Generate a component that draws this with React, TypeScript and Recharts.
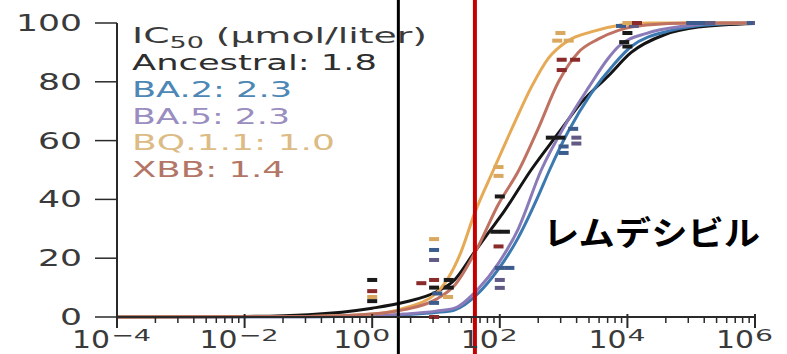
import {
  ComposedChart,
  Line,
  Scatter,
  XAxis,
  YAxis,
  ReferenceLine,
  Customized,
} from 'recharts'

// log10 dose vs. % inhibition, fitted curves read point by point
const ancestralCurve = [
  [-4, 0], [-2, 0.2], [-1, 0.8], [0, 3], [0.5, 5], [1.0, 8.5], [1.29, 12.6], [1.6, 22],
  [1.82, 28.6], [2.07, 36], [2.49, 50], [2.92, 62.6], [3.28, 73], [3.7, 82], [4.06, 90],
  [4.58, 96], [5.11, 98.6], [6, 99.8],
]
const ba2Curve = [
  [-4, 0], [-1, 0.1], [0, 0.3], [0.5, 0.8], [1.0, 1.5], [1.29, 2.4], [1.66, 8], [1.97, 16],
  [2.29, 27], [2.6, 41], [2.78, 50], [3.07, 63], [3.43, 76], [3.79, 86], [4.06, 92],
  [4.69, 97.5], [5.36, 99.5], [6, 100],
]
const ba5Curve = [
  [-4, 0], [-1, 0.1], [0, 0.4], [0.5, 1], [1.0, 2], [1.29, 3], [1.66, 9.5], [1.97, 18],
  [2.29, 30], [2.65, 50], [3.07, 67], [3.39, 78], [3.7, 88], [3.86, 92], [4.3, 96.5],
  [4.9, 99], [5.5, 100], [6, 100],
]
const bq11Curve = [
  [-4, 0], [-1, 0.2], [0, 1], [0.5, 3], [1.0, 8], [1.39, 22], [1.6, 35], [1.9, 50],
  [2.23, 66], [2.49, 78], [2.76, 88], [3.07, 94], [3.43, 97], [3.9, 99.3], [4.33, 100], [6, 100],
]
const xbbCurve = [
  [-4, 0], [-1, 0.2], [0, 1], [0.5, 2.5], [1.0, 6], [1.3, 11], [1.66, 24], [1.97, 38],
  [2.3, 50], [2.6, 64], [2.92, 80], [3.23, 90], [3.54, 94.5], [3.86, 97.5], [4.3, 99.3],
  [5, 100], [6, 100],
]

// replicate measurements
const ancestralMarks = [
  [0, 12.6], [0, 5.4], [1.2, 12.6], [1.2, 10], [0.97, 10], [2.0, 41], [1.93, 29], [2.08, 29],
  [2.8, 61], [2.95, 61], [4.0, 96.6], [3.95, 93.5], [4.0, 92], [5.1, 100],
]
const ba2Marks = [
  [0.97, 22.8], [0.97, 4.8], [1.02, 8], [2.0, 16.7], [2.15, 16.7], [3.0, 58], [3.0, 55.8],
  [3.15, 64], [3.9, 99], [5.0, 100], [5.15, 100], [5.95, 100],
]
const ba5Marks = [
  [0.97, 19.4], [2.0, 12.6], [2.0, 9.9], [3.2, 61], [3.2, 59], [4.1, 99], [5.3, 100], [6.05, 100],
]
const bq11Marks = [
  [0, 6.8], [0.97, 26.5], [1.19, 6.8], [1.98, 51], [1.98, 48], [2.95, 96.6], [2.9, 94],
  [3.08, 94], [4.0, 100],
]
const xbbMarks = [
  [0, 8.8], [0.77, 11.5], [0.97, 12.6], [0.97, 0], [1.98, 24], [2.97, 87.5], [3.18, 87.5],
  [2.97, 84], [4.15, 100],
]

const legendLines = [
  { label: 'Ancestral: 1.8', color: '#2e2e2e', width: 245 },
  { label: 'BA.2: 2.3', color: '#4d87b5', width: 160 },
  { label: 'BA.5: 2.3', color: '#9a8dc0', width: 158 },
  { label: 'BQ.1.1: 1.0', color: '#dcbb85', width: 203 },
  { label: 'XBB: 1.4', color: '#b27566', width: 153 },
]

const yTicks = [0, 20, 40, 60, 80, 100]
const xMajors = [-4, -2, 0, 2, 4, 6]
const minorSteps = [2, 3, 4, 5, 6, 7, 8, 9]
const xTicks = [
  ...xMajors,
  ...xMajors.slice(0, -1).flatMap((m) => minorSteps.map((k) => m + 2 * Math.log10(k))),
]

const blackMarker = 0.41
const redMarker = 1.61

const toPts = (arr: number[][]) => arr.map(([x, y]) => ({ x, y }))

const FONT = 'DejaVu Sans'

function YTick({ x, y, payload }: any) {
  const s = String(payload.value)
  return (
    <text
      x={x}
      y={y}
      textAnchor="end"
      dominantBaseline="central"
      fontSize={23}
      fontFamily={FONT}
      fill="#3a3a3a"
      textLength={s.length * 22}
      lengthAdjust="spacingAndGlyphs"
    >
      {s}
    </text>
  )
}

function XTick({ x, y, payload }: any) {
  const v = payload.value as number
  const major = xMajors.includes(v)
  if (!major) {
    return <line x1={x} x2={x} y1={y} y2={y + 6} stroke="#2a2a2a" strokeWidth={1.5} />
  }
  const shift = v < 0 ? 7 : 1
  const exp = v < 0 ? `\u2212${-v}` : String(v)
  return (
    <g>
      <line x1={x} x2={x} y1={y - 3} y2={y + 11} stroke="#2a2a2a" strokeWidth={2} />
      <text
        x={x - shift}
        y={y + 31}
        textAnchor="end"
        fontSize={24}
        fontFamily={FONT}
        fill="#3a3a3a"
        textLength={38}
        lengthAdjust="spacingAndGlyphs"
      >
        10
      </text>
      <text
        x={x - shift + 1}
        y={y + 24}
        fontSize={16}
        fontFamily={FONT}
        fill="#3a3a3a"
        textLength={v < 0 ? 40 : 18}
        lengthAdjust="spacingAndGlyphs"
      >
        {exp}
      </text>
    </g>
  )
}

function Dash(color: string) {
  return (props: any) => (
    <rect x={props.cx - 5} y={props.cy - 2} width={10} height={4} fill={color} />
  )
}

function LegendBlock() {
  return (
    <g fontFamily={FONT} fontSize={21}>
      <text x={132} y={43} fill="#3a3a3a" textLength={295} lengthAdjust="spacingAndGlyphs">
        IC
        <tspan fontSize={15} dy={5}>50</tspan>
        <tspan dy={-5}> (µmol/liter)</tspan>
      </text>
      {legendLines.map((l, i) => (
        <text
          key={l.label}
          x={132}
          y={70 + i * 26.8}
          fill={l.color}
          textLength={l.width}
          lengthAdjust="spacingAndGlyphs"
        >
          {l.label}
        </text>
      ))}
      <text
        x={543}
        y={231}
        dominantBaseline="central"
        fontFamily="Noto Sans CJK JP"
        fontWeight={700}
        fontSize={33}
        fill="#000"
        textLength={217}
        lengthAdjust="spacingAndGlyphs"
      >
        レムデシビル
      </text>
    </g>
  )
}

const series = [
  { name: 'Ancestral', curve: ancestralCurve, marks: ancestralMarks, line: '#141414', mark: '#1a1a1a' },
  { name: 'BA.2', curve: ba2Curve, marks: ba2Marks, line: '#3b79b0', mark: '#3b5c8c' },
  { name: 'BA.5', curve: ba5Curve, marks: ba5Marks, line: '#8a7bb8', mark: '#615a84' },
  { name: 'BQ.1.1', curve: bq11Curve, marks: bq11Marks, line: '#e6a955', mark: '#d9a85e' },
  { name: 'XBB', curve: xbbCurve, marks: xbbMarks, line: '#c07262', mark: '#8a2a2a' },
]

export default function App() {
  return (
    <div style={{ position: 'absolute', left: 0, top: 0, width: 787, height: 354, background: '#fff' }}>
      <ComposedChart width={787} height={354} margin={{ top: 23, right: 32, bottom: 0, left: 0 }}>
        <XAxis
          type="number"
          dataKey="x"
          domain={[-4, 6]}
          ticks={xTicks}
          interval={0}
          tick={<XTick />}
          tickLine={false}
          tickSize={0}
          tickMargin={0}
          height={37}
          axisLine={{ stroke: '#2a2a2a', strokeWidth: 2 }}
          allowDataOverflow
        />
        <YAxis
          type="number"
          domain={[0, 100]}
          ticks={yTicks}
          interval={0}
          width={117}
          tick={<YTick />}
          tickSize={22}
          tickMargin={13}
          tickLine={{ stroke: '#2a2a2a', strokeWidth: 1.5 }}
          axisLine={{ stroke: '#2a2a2a', strokeWidth: 2 }}
        />
        <Customized component={LegendBlock} />
        {series.map((s) => (
          <Line
            key={s.name}
            data={toPts(s.curve)}
            dataKey="y"
            type="monotone"
            stroke={s.line}
            strokeWidth={3}
            dot={false}
            activeDot={false}
            isAnimationActive={false}
          />
        ))}
        {series.map((s) => (
          <Scatter
            key={`${s.name}-m`}
            data={toPts(s.marks)}
            dataKey="y"
            shape={Dash(s.mark)}
            isAnimationActive={false}
          />
        ))}
        <ReferenceLine
          segment={[{ x: blackMarker, y: -13 }, { x: blackMarker, y: 108 }]}
          stroke="#000"
          strokeWidth={3}
          ifOverflow="visible"
        />
        <ReferenceLine
          segment={[{ x: redMarker, y: -13 }, { x: redMarker, y: 108 }]}
          stroke="#c40000"
          strokeWidth={4}
          ifOverflow="visible"
        />
      </ComposedChart>
    </div>
  )
}
